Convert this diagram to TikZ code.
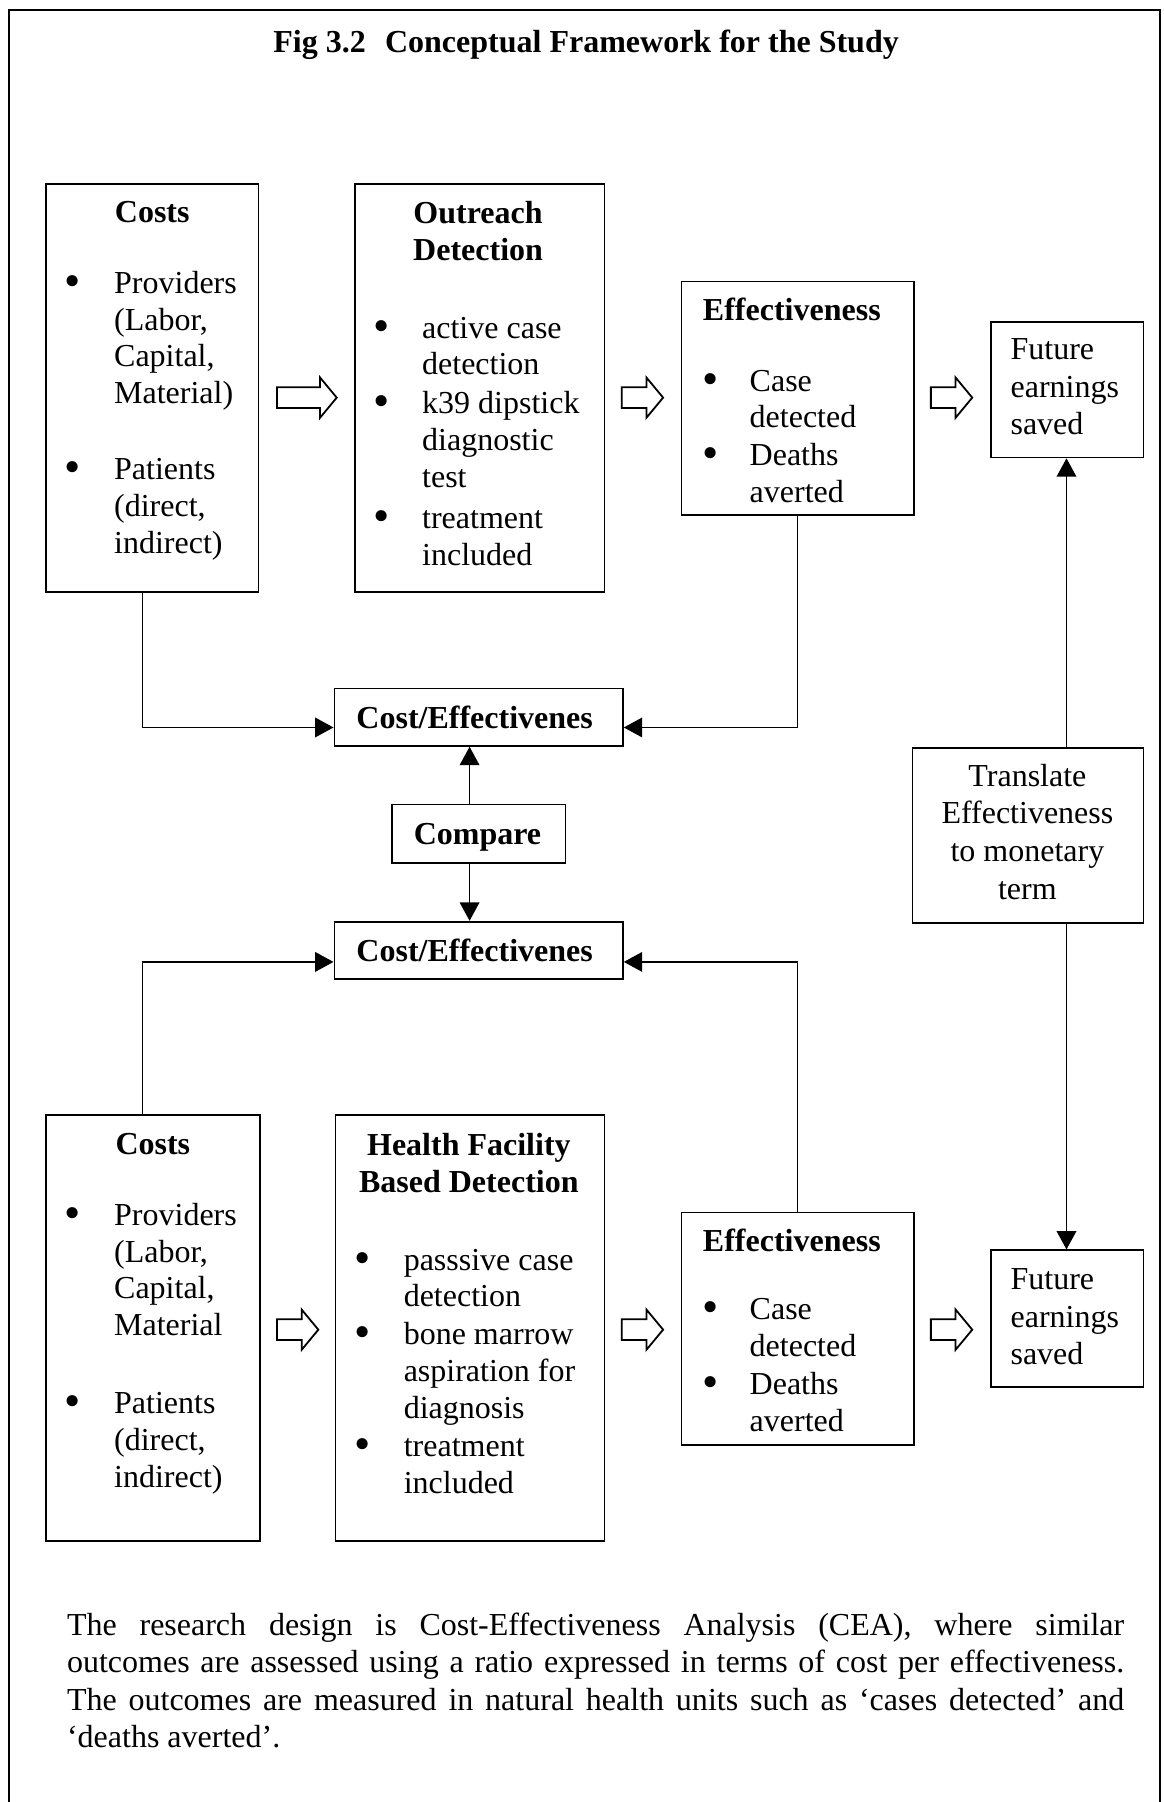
\documentclass[tikz,border=0pt]{standalone}
\usepackage{graphicx}
\usepackage{fontspec}
\setmainfont{Liberation Serif}
\usetikzlibrary{arrows.meta,fit,calc}
\newcommand\bul[1]{\llap{\raisebox{-1.5pt}{\scalebox{1.45}{\textbullet}}\hspace{#1}}}
\newcommand\fst{\rule{0pt}{12pt}}
\newcommand\harrow[3]{\draw[hollowarr] (#1,{#3-9}) -- ({#2-14.5},{#3-9}) -- ({#2-14.5},{#3-17.5}) -- (#2,#3) -- ({#2-14.5},{#3+17.5}) -- ({#2-14.5},{#3+9}) -- (#1,{#3+9}) -- cycle;}
\tikzset{
  box/.style={draw, line width=0.9pt, inner sep=0pt, rectangle},
  conn/.style={draw, line width=0.8pt, -{Triangle[length=9.2pt,width=9.8pt]}},
  txt/.style={inner sep=0pt, anchor=north west, align=left, font=\fontsize{16}{18.4}\selectfont},
  ttl/.style={inner sep=0pt, anchor=base, font=\fontsize{16}{18.4}\selectfont\bfseries},
  hollowarr/.style={draw, line width=0.9pt, fill=white, line join=miter},
}
\begin{document}
\begin{tikzpicture}[x=0.5746pt, y=-0.5746pt]
\useasboundingbox (0,0) rectangle (1012,1568);
\draw[line width=1pt] (7.8,1575) -- (7.8,8.7) -- (1009.5,8.7) -- (1009.5,1575);

% title
\node[ttl] (title) at (510,46) {Fig 3.2\hspace{0.6em}Conceptual Framework for the Study};

% boxes
\node[box, fit={(40,160) (225,515)}] (costsA) {};
\node[box, fit={(309,160) (526,515)}] (outA) {};
\node[box, fit={(593,245) (795,448)}] (effA) {};
\node[box, fit={(862,280) (995,398)}] (futA) {};
\node[box, fit={(291,599) (542,649)}] (ceA) {};
\node[box, fit={(341,700) (492,751)}] (cmp) {};
\node[box, fit={(291,802) (542,852)}] (ceB) {};
\node[box, fit={(794,651) (995,803)}] (trans) {};
\node[box, fit={(40,970) (226,1341)}] (costsB) {};
\node[box, fit={(292,970) (526,1341)}] (hfB) {};
\node[box, fit={(593,1055) (795,1257)}] (effB) {};
\node[box, fit={(862,1088) (995,1207)}] (futB) {};

% titles in boxes
\node[ttl] (costsAt) at (132.5,194) {Costs};
\node[ttl, anchor=north, align=center] (outAt) at (416,173) {\fst Outreach\\Detection};
\node[ttl] (effAt) at (689,279) {Effectiveness};
\node[ttl] (ceAt) at (413,634) {Cost/Effectivenes};
\node[ttl] (cmpt) at (415.5,735) {Compare};
\node[ttl] (ceBt) at (413,837) {Cost/Effectivenes};
\node[ttl] (costsBt) at (133,1005) {Costs};
\node[ttl, anchor=north, align=center] (hfBt) at (408,984) {\fst Health Facility\\Based Detection};
\node[ttl] (effBt) at (689,1089) {Effectiveness};

% body texts
\node[txt] (costsAx) at (99,234) {\bul{16.6pt}\fst Providers\\(Labor,\\Capital,\\Material)\\[19.5pt]\bul{16.6pt}Patients\\(direct,\\indirect)};
\node[txt] (outAx) at (367,273) {\bul{16pt}\fst active case\\detection\\[1.1pt]\bul{16pt}k39 dipstick\\diagnostic\\test\\[2.3pt]\bul{16pt}treatment\\included};
\node[txt] (effAx) at (652,319) {\bul{15.5pt}\fst Case\\detected\\[0.6pt]\bul{15.5pt}Deaths\\averted};
\node[txt, font=\fontsize{16}{18.7}\selectfont] (futAx) at (879,292) {\fst Future\\earnings\\saved};
\node[txt, anchor=north, align=center, font=\fontsize{16}{18.8}\selectfont] (transx) at (894,663) {\fst Translate\\Effectiveness\\to monetary\\term};
\node[txt] (costsBx) at (99,1045) {\bul{16.6pt}\fst Providers\\(Labor,\\Capital,\\Material\\[20.7pt]\bul{16.6pt}Patients\\(direct,\\indirect)};
\node[txt] (hfBx) at (351,1084) {\bul{16.6pt}\fst passsive case\\detection\\[0.6pt]\bul{16.6pt}bone marrow\\aspiration for\\diagnosis\\[0.6pt]\bul{16.6pt}treatment\\included};
\node[txt] (effBx) at (652,1127) {\bul{15.5pt}\fst Case\\detected\\[0.6pt]\bul{15.5pt}Deaths\\averted};
\node[txt, font=\fontsize{16}{18.7}\selectfont] (futBx) at (879,1101) {\fst Future\\earnings\\saved};

% hollow arrows
\harrow{241}{293}{346}
\harrow{541}{577}{346}
\harrow{810}{846}{346}
\harrow{241}{277}{1157}
\harrow{541}{577}{1157}
\harrow{810}{846}{1157}

% connectors
\coordinate (jA) at (124,633);
\coordinate (jB) at (694,633);
\coordinate (jC) at (124,837);
\coordinate (jD) at (694,837);
\coordinate (kx) at (408.6,0);
\coordinate (tx) at (928,0);
\draw[conn] (costsA.south -| jA) |- (ceA.west |- jA);
\draw[conn] (effA.south -| jB) |- (ceA.east |- jB);
\draw[conn] (cmp.north -| kx) -- (ceA.south -| kx);
\draw[conn] (cmp.south -| kx) -- (ceB.north -| kx);
\draw[conn] (costsB.north -| jC) |- (ceB.west |- jC);
\draw[conn] (effB.north -| jD) |- (ceB.east |- jD);
\draw[conn] (trans.north -| tx) -- (futA.south -| tx);
\draw[conn] (trans.south -| tx) -- (futB.north -| tx);

% paragraph
\node[txt, font=\fontsize{16}{18.6}\selectfont] (para) at (58,1402) {%
\fst\makebox[528.6pt][s]{The research design is Cost-Effectiveness Analysis (CEA), where similar}\\
\makebox[528.6pt][s]{outcomes are assessed using a ratio expressed in terms of cost per effectiveness.}\\
\makebox[528.6pt][s]{The outcomes are measured in natural health units such as ‘cases detected’ and}\\
‘deaths averted’.};
\end{tikzpicture}
\end{document}
